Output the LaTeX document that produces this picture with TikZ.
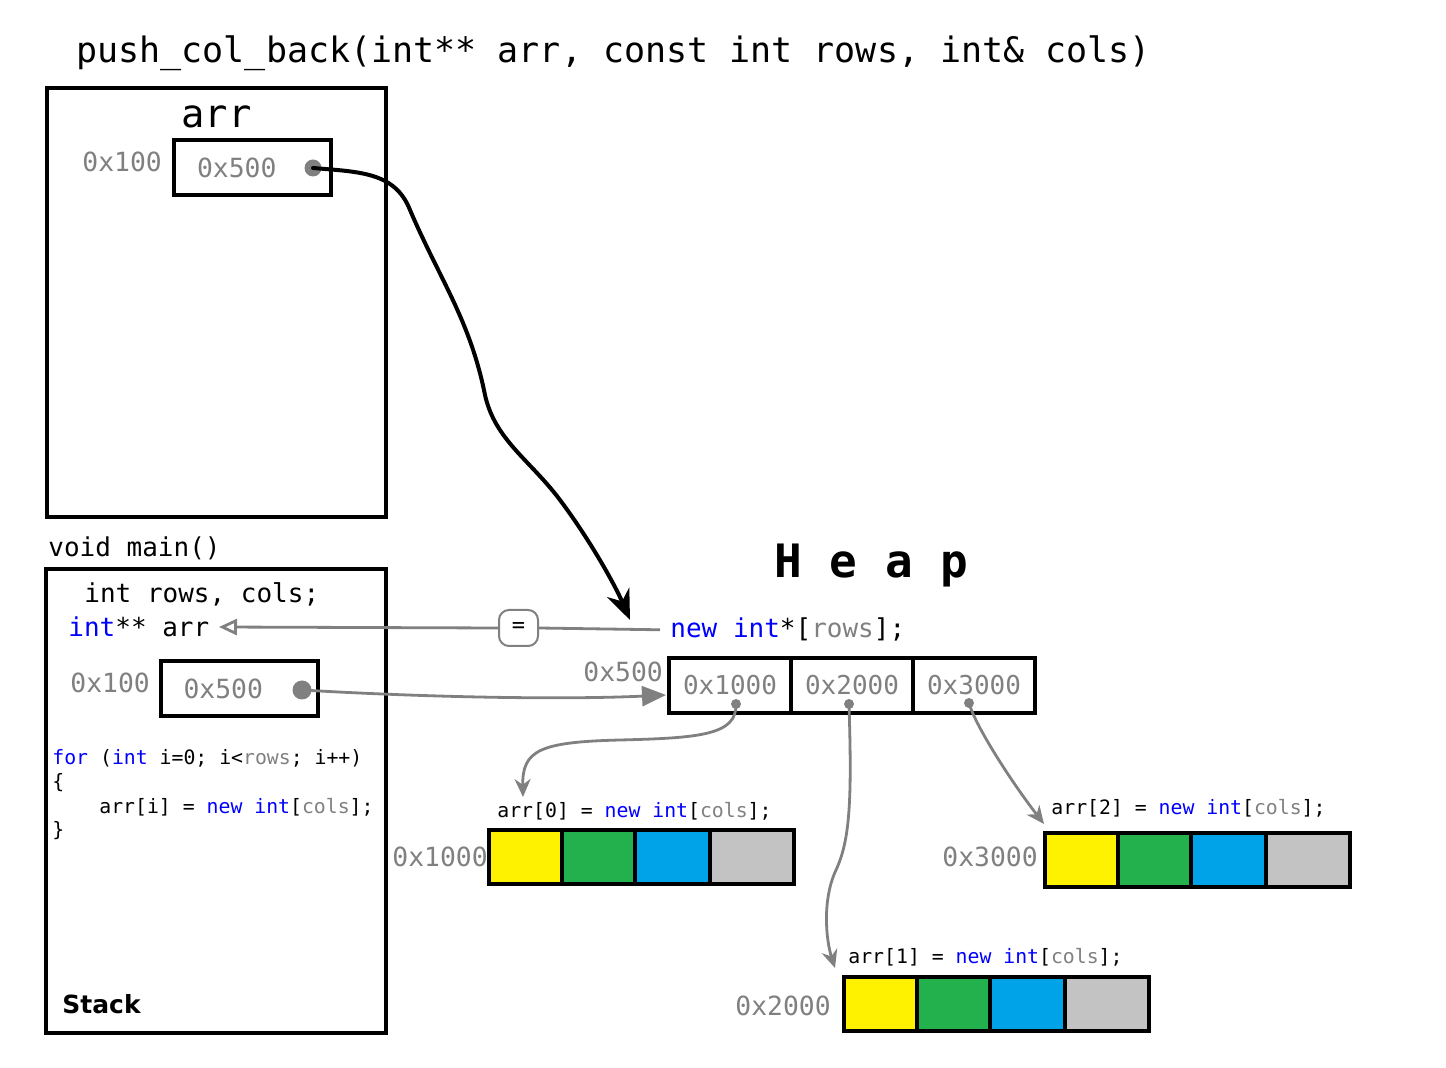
\documentclass[tikz,border=0pt]{standalone}
\usepackage{fontspec}
\setmonofont{DejaVu Sans Mono}
\setsansfont{DejaVu Sans}
\usetikzlibrary{arrows.meta,positioning}
\definecolor{addrgray}{RGB}{128,128,128}
\definecolor{kwblue}{RGB}{0,0,255}
\definecolor{cyellow}{RGB}{255,242,0}
\definecolor{cgreen}{RGB}{34,177,76}
\definecolor{cblue}{RGB}{0,162,232}
\definecolor{cgray}{RGB}{195,195,195}
\newcommand{\kw}[1]{\textcolor{kwblue}{#1}}
\newcommand{\gv}[1]{\textcolor{addrgray}{#1}}
\tikzstyle{code}=[
	anchor=base west,
	inner sep=0pt,
	font=\ttfamily\fontsize{13}{15}\selectfont
]
\tikzstyle{addr}=[code, text=addrgray, font=\ttfamily\fontsize{13.2}{15}\selectfont]
\tikzstyle{smallcode}=[code, font=\ttfamily\fontsize{9.9}{12}\selectfont]
\tikzstyle{frame}=[draw, line width=2pt]
\tikzstyle{ptrbox}=[
	draw,
	line width=2pt,
	text width=55.5pt,
	align=left,
	inner xsep=11.5pt,
	inner ysep=0pt,
	minimum height=27.5pt,
	text=addrgray,
	font=\ttfamily\fontsize{13.2}{15}\selectfont
]
\tikzstyle{ptrcell}=[
	draw,
	line width=2pt,
	outer sep=0pt,
	inner sep=0pt,
	minimum width=61pt,
	minimum height=27.5pt,
	text=addrgray,
	font=\ttfamily\fontsize{13}{15}\selectfont
]
\tikzstyle{intcell}=[draw, line width=2pt, outer sep=0pt, minimum height=27pt]
\tikzstyle{ptrdot}=[circle, fill=addrgray, inner sep=0pt, minimum size=8.5pt]
\tikzstyle{smalldot}=[circle, fill=addrgray, inner sep=0pt, minimum size=5pt]
\tikzstyle{bigptr}=[
	line width=2pt,
	line cap=round,
	-{Stealth[length=15pt,width=12pt]}
]
\tikzstyle{grayline}=[draw=addrgray, line width=1.4pt]
\tikzstyle{rowptr}=[grayline, -{Stealth[length=9pt,width=8pt]}, addrgray]
\tikzstyle{heapptr}=[grayline, -{Triangle[length=12pt,width=10pt]}, addrgray]
\tikzstyle{assignptr}=[grayline, -{Triangle[open,length=9pt,width=8pt]}]

\begin{document}
\begin{tikzpicture}[x=0.5pt, y=-0.5pt]
\useasboundingbox (0,0) rectangle (1446,1068);

% push_col_back frame
\node [code, font=\ttfamily\fontsize{17.5}{20}\selectfont] (title) at (76,63)
	{push\_col\_back(int** arr, const int rows, int\& cols)};
\draw [frame] (47,88) rectangle (386,517);
\node [code, font=\ttfamily\fontsize{19.4}{22}\selectfont] (argname) at (181,128) {arr};
\node [addr] (argaddr) at (82,172) {0x100};
\node [ptrbox] (argbox) at (252.5,167.5) {0x500};
\node [ptrdot] (tdot) at (313,168) {};

% main frame
\node [code] (mainlbl) at (48,557) {void main()};
\draw [frame] (46,569) rectangle (386,1033);
\node [code] (decl) at (84,603) {int rows, cols;};
\node [code] (arrvar) at (68,637) {\kw{int}** arr};
\node [addr] (varaddr) at (70,693) {0x100};
\node [ptrbox] (varbox) at (239,688.5) {0x500};
\node [ptrdot, minimum size=9.5pt] (sdot) at (302,690) {};
\node [smallcode] (forline) at (52,765) {\kw{for} (\kw{int} i=0; i<\gv{rows}; i++)};
\node [smallcode] (openbr) at (52,789) {\{};
\node [smallcode] (body) at (99,813) {arr[i] = \kw{new} \kw{int}[\gv{cols}];};
\node [smallcode] (closebr) at (52,837) {\}};
\node [anchor=base west, inner sep=0pt, font=\sffamily\bfseries\fontsize{12.5}{15}\selectfont] (stacklbl) at (62,1013) {Stack};

% heap
\node [anchor=base west, inner sep=0pt, font=\ttfamily\bfseries\fontsize{23}{28}\selectfont] (heaplbl) at (774,578) {H e a p};
\node [code] (newlbl) at (670,638) {\kw{new} \kw{int}*[\gv{rows}];};
\node [draw=addrgray, line width=1pt, rounded corners=5pt, minimum width=19.5pt, minimum height=18pt,
	inner sep=0pt, font=\ttfamily\fontsize{11}{13}\selectfont] (eq) at (518.5,628) {=};
\node [addr] (heapaddr) at (583,682) {0x500};
\node [ptrcell, anchor=west] (c0) at (669,685.5) {0x1000};
\node [ptrcell, right=0pt of c0] (c1) {0x2000};
\node [ptrcell, right=0pt of c1] (c2) {0x3000};
\node [smalldot] (d0) at (736,704) {};
\node [smalldot] (d1) at (849,704) {};
\node [smalldot] (d2) at (969,703) {};

\foreach \r/\x/\y in {0/489/857, 1/844/1004, 2/1045/860}{
	\node [intcell, fill=cyellow, minimum width=36.5pt, anchor=west] (r\r a) at (\x,\y) {};
	\node [intcell, fill=cgreen, minimum width=36.5pt, right=0pt of r\r a] (r\r b) {};
	\node [intcell, fill=cblue, minimum width=37.5pt, right=0pt of r\r b] (r\r c) {};
	\node [intcell, fill=cgray, minimum width=42pt, right=0pt of r\r c] (r\r d) {};
}
\node [smallcode] (row0lbl) at (497,818) {arr[0] = \kw{new} \kw{int}[\gv{cols}];};
\node [smallcode] (row1lbl) at (848,963) {arr[1] = \kw{new} \kw{int}[\gv{cols}];};
\node [smallcode] (row2lbl) at (1051,815) {arr[2] = \kw{new} \kw{int}[\gv{cols}];};
\node [addr] (row0addr) at (392,867) {0x1000};
\node [addr] (row1addr) at (735,1015) {0x2000};
\node [addr] (row2addr) at (942,867) {0x3000};

% connectors
\coordinate (bigtip) at (630,620);
\coordinate (arrtip) at (219,627);
\coordinate (heapin) at (666,695);
\coordinate (t0) at (523,797);
\coordinate (t1) at (835,968);
\coordinate (t2) at (1044,824);

\draw [bigptr] (tdot.center) .. controls (360,172) and (395,172) .. (410,210)
	.. controls (440,280) and (470,320) .. (485,395)
	.. controls (495,440) and (530,460) .. (560,500)
	.. controls (590,540) and (615,585) .. (bigtip);
\draw [assignptr] (eq.west) -- (arrtip);
\draw [grayline, shorten >=5pt] (eq.east) -- (newlbl.west);
\draw [heapptr] (sdot.center) .. controls (420,697) and (560,700) .. (heapin);
\draw [rowptr] (d0.center) .. controls (737,735) and (700,738) .. (620,740)
	.. controls (540,742) and (522,750) .. (t0);
\draw [rowptr] (d1.center) .. controls (852,800) and (850,840) .. (836,870)
	.. controls (822,900) and (826,940) .. (t1);
\draw [rowptr] (d2.center) .. controls (975,725) and (1010,780) .. (t2);
\end{tikzpicture}
\end{document}
